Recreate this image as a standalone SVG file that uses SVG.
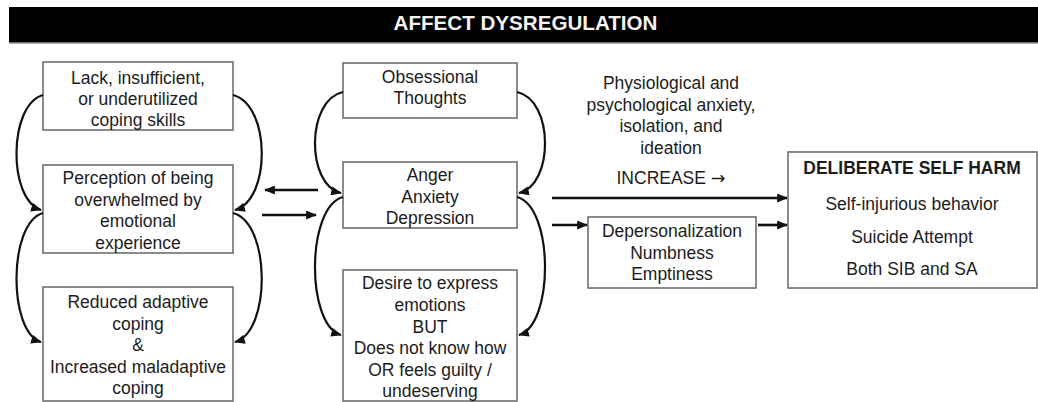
<svg xmlns="http://www.w3.org/2000/svg" width="1038" height="402" viewBox="0 0 1038 402">
  <style>
    .box { fill: #ffffff; stroke: #6e6e6e; stroke-width: 1.6; }
    .t { font-family: "Liberation Sans", Arial, sans-serif; font-size: 17.5px; fill: #1c1c1c; text-anchor: middle; }
    .b { font-weight: bold; }
    .curve { fill: none; stroke: #111; stroke-width: 2.2; marker-end: url(#head); }
    .line { fill: none; stroke: #111; stroke-width: 2.6; marker-end: url(#head); }
  </style>
  <defs>
    <marker id="head" viewBox="0 0 12 10" refX="11" refY="5" markerWidth="11" markerHeight="9" markerUnits="userSpaceOnUse" orient="auto">
      <path d="M0,0 L12,5 L0,10 z" fill="#111"/>
    </marker>
  </defs>

  <rect width="1038" height="402" fill="#ffffff"/>

  <!-- title banner -->
  <g id="title">
    <rect x="9" y="7.5" width="1030" height="36" fill="#6b6b6b"/>
    <rect x="9" y="7" width="1030" height="35" fill="#000000"/>
    <text x="525.5" y="29.5" class="t b" style="font-size:20.6px; fill:#f4f4f4">AFFECT DYSREGULATION</text>
  </g>

  <!-- left column -->
  <g id="coping-skills">
    <rect class="box" x="43" y="62" width="190" height="68"/>
    <text class="t" x="138" y="84">Lack, insufficient,</text>
    <text class="t" x="138" y="105">or underutilized</text>
    <text class="t" x="138" y="126">coping skills</text>
  </g>
  <g id="overwhelmed">
    <rect class="box" x="43" y="165" width="190" height="88"/>
    <text class="t" x="138" y="184">Perception of being</text>
    <text class="t" x="138" y="205.5">overwhelmed by</text>
    <text class="t" x="138" y="227">emotional</text>
    <text class="t" x="138" y="248.5">experience</text>
  </g>
  <g id="adaptive-coping">
    <rect class="box" x="43" y="287" width="190" height="114"/>
    <text class="t" x="138" y="308">Reduced adaptive</text>
    <text class="t" x="138" y="329.5">coping</text>
    <text class="t" x="138" y="351">&amp;</text>
    <text class="t" x="138" y="372.5">Increased maladaptive</text>
    <text class="t" x="138" y="394">coping</text>
  </g>

  <!-- middle column -->
  <g id="obsessional">
    <rect class="box" x="343" y="63" width="174" height="55"/>
    <text class="t" x="430" y="83">Obsessional</text>
    <text class="t" x="430" y="104">Thoughts</text>
  </g>
  <g id="emotions">
    <rect class="box" x="343" y="162" width="174" height="66"/>
    <text class="t" x="430" y="181">Anger</text>
    <text class="t" x="430" y="202.5">Anxiety</text>
    <text class="t" x="430" y="224">Depression</text>
  </g>
  <g id="desire">
    <rect class="box" x="343" y="270" width="174" height="131"/>
    <text class="t" x="430" y="289">Desire to express</text>
    <text class="t" x="430" y="311">emotions</text>
    <text class="t" x="430" y="332.5">BUT</text>
    <text class="t" x="430" y="354">Does not know how</text>
    <text class="t" x="430" y="375.5">OR feels guilty /</text>
    <text class="t" x="430" y="397">undeserving</text>
  </g>

  <!-- right side -->
  <g id="increase-label">
    <text class="t" x="671" y="89">Physiological and</text>
    <text class="t" x="671" y="110.5">psychological anxiety,</text>
    <text class="t" x="671" y="132">isolation, and</text>
    <text class="t" x="671" y="153.5">ideation</text>
    <text class="t" x="671" y="184">INCREASE <tspan style="font-family:'DejaVu Sans', sans-serif">→</tspan></text>
  </g>
  <g id="depersonalization">
    <rect class="box" x="588" y="217" width="168" height="71"/>
    <text class="t" x="672" y="237">Depersonalization</text>
    <text class="t" x="672" y="258.5">Numbness</text>
    <text class="t" x="672" y="280">Emptiness</text>
  </g>
  <g id="self-harm">
    <rect class="box" x="788" y="152" width="249" height="136"/>
    <text class="t b" x="912" y="174">DELIBERATE SELF HARM</text>
    <text class="t" x="912" y="210">Self-injurious behavior</text>
    <text class="t" x="912" y="243">Suicide Attempt</text>
    <text class="t" x="912" y="275">Both SIB and SA</text>
  </g>

  <!-- connectors -->
  <g id="connectors">
    <!-- left column loops -->
    <path class="curve" d="M43,95 C8,105 8,200 41,210"/>
    <path class="curve" d="M43,213 C8,223 8,332 41,342"/>
    <path class="curve" d="M233,95 C271,105 271,200 235,210"/>
    <path class="curve" d="M233,213 C271,223 271,332 235,342"/>
    <!-- middle column loops -->
    <path class="curve" d="M343,92 C306,100 306,185 341,193"/>
    <path class="curve" d="M343,197 C306,207 306,325 341,335"/>
    <path class="curve" d="M517,92 C554,100 554,185 519,193"/>
    <path class="curve" d="M517,197 C554,207 554,325 519,335"/>
    <!-- between columns -->
    <path class="line" d="M318,190 L265,190"/>
    <path class="line" d="M262,215 L316,215"/>
    <!-- toward self harm -->
    <path class="line" d="M552,198 L787,198"/>
    <path class="line" d="M552,225 L587,225"/>
    <path class="line" d="M758,225 L787,225"/>
  </g>
</svg>
